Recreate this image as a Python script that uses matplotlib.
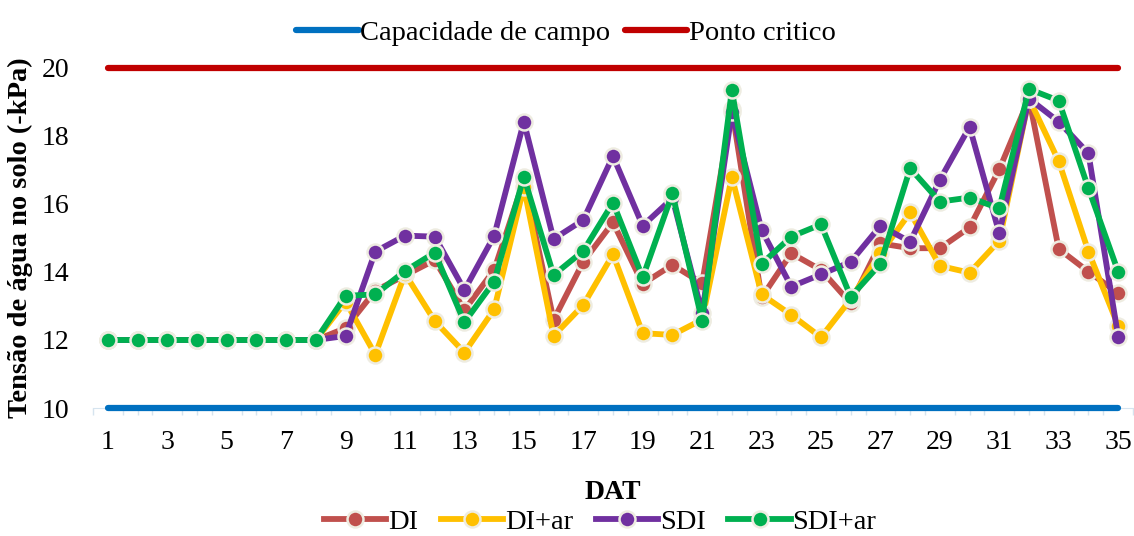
import matplotlib
matplotlib.use("Agg")
import matplotlib.pyplot as plt
import numpy as np

days = list(range(1, 36))
di = [12]*8 + [12.35, 13.45, 13.9, 14.35, 12.88, 14.06, 16.7, 12.59, 14.30, 15.46, 13.65, 14.21, 13.67,
               18.8, 13.25, 14.55, 14.06, 13.08, 14.84, 14.70, 14.70, 15.31, 17.02, 19.1, 14.68, 14.01, 13.38]
di_ar = [12]*8 + [13.13, 11.57, 13.95, 12.56, 11.63, 12.90, 16.5, 12.12, 13.03, 14.52, 12.20, 12.15, 12.6,
                  16.80, 13.34, 12.74, 12.08, 13.2, 14.55, 15.75, 14.18, 13.98, 14.92, 19.1, 17.26, 14.60, 12.42]
sdi = [12]*8 + [12.12, 14.60, 15.07, 15.04, 13.47, 15.06, 18.42, 14.97, 15.53, 17.41, 15.36, 16.17, 12.8,
                18.7, 15.24, 13.57, 13.93, 14.30, 15.36, 14.89, 16.71, 18.27, 15.14, 19.1, 18.42, 17.49, 12.10]
sdi_ar = [12]*8 + [13.30, 13.34, 14.03, 14.57, 12.52, 13.72, 16.80, 13.91, 14.62, 16.04, 13.84, 16.31, 12.56,
                   19.35, 14.24, 15.04, 15.40, 13.27, 14.24, 17.05, 16.07, 16.19, 15.87, 19.38, 19.04, 16.46, 14.01]
capacidade = [10]*35
ponto = [20]*35
tick_labels = [str(d) for d in range(1, 36, 2)]

plt.rcParams['font.family'] = ['Liberation Serif', 'DejaVu Serif']

fig = plt.figure(figsize=(11.34, 5.36), dpi=100)
ax = fig.add_axes([93/1134, 1-408/536, 1040/1134, 340/536])

l_cap, = ax.plot(days, capacidade, color='#0070C0', lw=4.5, solid_capstyle='round', clip_on=False, zorder=3)
l_pc, = ax.plot(days, ponto, color='#C00000', lw=4.5, solid_capstyle='round', clip_on=False, zorder=3)

series = [(di, '#C0504D', 'DI'), (di_ar, '#FFC000', 'DI+ar'), (sdi, '#7030A0', 'SDI'), (sdi_ar, '#00B050', 'SDI+ar')]
handles = []
for i, (vals, col, lab) in enumerate(series):
    h, = ax.plot(days, vals, color=col, lw=4.2, marker='o', ms=11.5, mfc=col, mec='#EEECE1', mew=1.8,
                 solid_joinstyle='round', clip_on=False, zorder=4+i, label=lab)
    handles.append(h)

ax.set_xlim(0.5, 35.5)
ax.set_ylim(10, 20)
ax.set_yticks([10, 12, 14, 16, 18, 20])
ax.tick_params(axis='y', length=0, labelsize=20, pad=17)
ax.set_xticks(list(range(1, 36, 2)))
ax.set_xticklabels(tick_labels)
ax.set_xticks(np.arange(0.5, 36, 0.5), minor=True)
ax.tick_params(axis='x', which='major', length=0, labelsize=20, pad=16)
ax.tick_params(axis='x', which='minor', length=5, color='#D6E4EF', width=1)
for s in ['top', 'right', 'left']:
    ax.spines[s].set_visible(False)
ax.spines['bottom'].set_color('#D6E4EF')

ax.set_ylabel('Tensão de água no solo (-kPa)', fontsize=20.5, fontweight='bold', labelpad=6)
ax.set_xlabel('DAT', fontsize=20, fontweight='bold', labelpad=18)

fig.legend([l_cap, l_pc], ['Capacidade de campo', 'Ponto critico'], loc='center', bbox_to_anchor=(566/1134, 1-33/536),
           ncol=2, frameon=False, fontsize=20.5, handlelength=2.2, handletextpad=0.05, columnspacing=0.5)
fig.legend(handles, [s[2] for s in series], loc='center', bbox_to_anchor=(600/1134, 1-522/536),
           ncol=4, frameon=False, fontsize=20.5, handlelength=2.2, handletextpad=0.05, columnspacing=0.8)

fig.savefig('out.png', dpi=100)
